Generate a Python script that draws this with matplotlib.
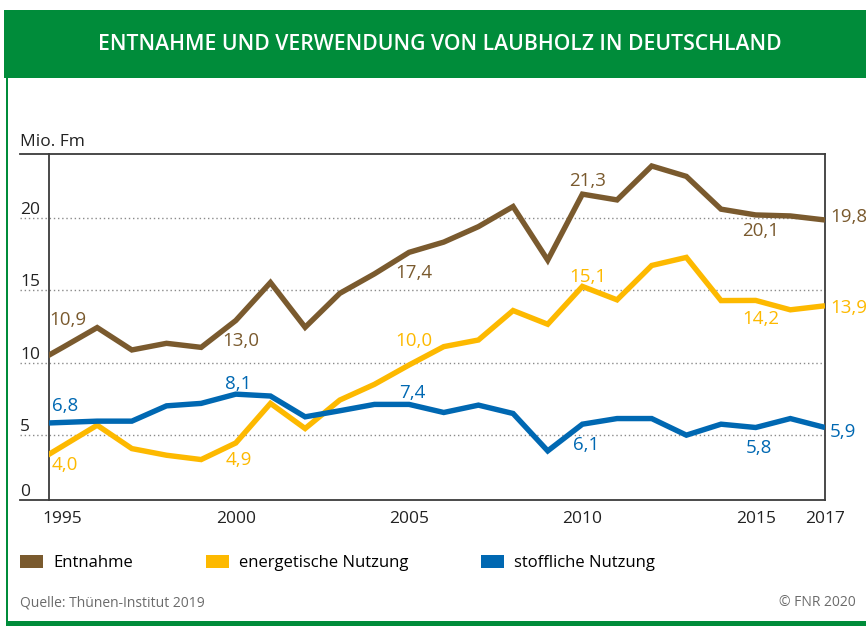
import matplotlib
matplotlib.use("Agg")
import matplotlib.pyplot as plt
from matplotlib.patches import Rectangle, Patch

# ---------------- data ----------------
years = list(range(1994, 2018))
entnahme = [9.7, 11.05, 12.43, 10.88, 11.34, 11.06, 12.92, 15.55, 12.45, 14.8, 16.15, 17.64,
            18.35, 19.42, 20.81, 17.1, 21.67, 21.27, 23.62, 22.9, 20.63, 20.23, 20.16, 19.88]
energetisch = [2.77, 4.22, 5.67, 4.05, 3.59, 3.29, 4.44, 7.18, 5.44, 7.41, 8.5, 9.84,
               11.11, 11.57, 13.61, 12.66, 15.28, 14.35, 16.73, 17.29, 14.3, 14.31, 13.66, 13.94]
stofflich = [5.77, 5.86, 5.95, 5.95, 7.01, 7.18, 7.82, 7.69, 6.25, 6.67, 7.11, 7.11,
             6.55, 7.06, 6.48, 3.89, 5.74, 6.13, 6.13, 4.98, 5.74, 5.51, 6.13, 5.51]

series_names = ["Entnahme", "energetische Nutzung", "stoffliche Nutzung"]
colors = ["#7A5A2E", "#FDB900", "#0068B2"]

x_ticks = [1995, 2000, 2005, 2010, 2015, 2017]
y_ticks = [5, 10, 15, 20]
y_tick_labels = ["5", "10", "15", "20"]

# value labels: (text, year, value, series index, align)
value_labels = [
    ("10,9", 1995.14, 12.96, 0, "center"),
    ("13,0", 2000.14, 11.52, 0, "center"),
    ("17,4", 2005.15, 16.19, 0, "center"),
    ("21,3", 2010.15, 22.60, 0, "center"),
    ("20,1", 2015.15, 19.12, 0, "center"),
    ("19,8", 2017.14, 20.10, 0, "left"),
    ("4,0", 1995.07, 2.92, 1, "center"),
    ("4,9", 2000.09, 3.26, 1, "center"),
    ("10,0", 2005.14, 11.52, 1, "center"),
    ("15,1", 2010.15, 15.96, 1, "center"),
    ("14,2", 2015.16, 13.03, 1, "center"),
    ("13,9", 2017.14, 13.82, 1, "left"),
    ("6,8", 1995.07, 7.00, 2, "center"),
    ("8,1", 2000.06, 8.49, 2, "center"),
    ("7,4", 2005.10, 7.88, 2, "center"),
    ("6,1", 2010.10, 4.30, 2, "center"),
    ("5,8", 2015.10, 4.07, 2, "center"),
    ("5,9", 2017.14, 5.22, 2, "left"),
]

title = "ENTNAHME UND VERWENDUNG VON LAUBHOLZ IN DEUTSCHLAND"
unit_label = "Mio. Fm"
source = "Quelle: Thünen-Institut 2019"
copyright_txt = "© FNR 2020"

# ---------------- layout ----------------
W, H = 866, 626
plt.rcParams["font.family"] = ["Open Sans", "DejaVu Sans"]
fig = plt.figure(figsize=(W / 100, H / 100), dpi=100)

def fx(px):
    return px / W

def fy(py):
    return 1 - py / H

green = "#008C3A"
# header band
fig.patches.append(Rectangle((fx(4), fy(78)), fx(862), 68 / H, transform=fig.transFigure,
                             facecolor=green, edgecolor="none", zorder=0))
# frame lines
fig.patches.append(Rectangle((fx(5.5), fy(626)), 2.2 / W, (626 - 78) / H, transform=fig.transFigure,
                             facecolor=green, edgecolor="none", zorder=0))
fig.patches.append(Rectangle((fx(5.5), fy(626)), fx(866), 5 / H, transform=fig.transFigure,
                             facecolor=green, edgecolor="none", zorder=0))

fig.text(fx(440), fy(44), title, color="white", fontsize=15.2, fontweight="semibold",
         ha="center", va="center")

ax_left, ax_right, ax_top, ax_bottom = 49, 825, 154, 500
ax = fig.add_axes([fx(ax_left), fy(ax_bottom), (ax_right - ax_left) / W, (ax_bottom - ax_top) / H])
ymin, ymax = 0.49, 24.45
ax.set_xlim(1994.61, 2017)
ax.set_ylim(ymin, ymax)

for name, vals, c in zip(series_names, [entnahme, energetisch, stofflich], colors):
    ax.plot(years, vals, color=c, lw=3.9, solid_joinstyle="miter", solid_capstyle="butt",
            zorder=3, label=name)

ext = (20 - ax_left) / (ax_right - ax_left)
axis_col = "#3c3c3c"
for y in y_ticks:
    ax.axhline(y, xmin=ext, xmax=1, clip_on=False, color="#8a8a8a", lw=1.0,
               ls=(0, (1, 2)), zorder=1)
ax.plot([ext, 1], [1, 1], transform=ax.transAxes, clip_on=False, color=axis_col, lw=1.3, zorder=4)
ax.plot([ext, 1], [0, 0], transform=ax.transAxes, clip_on=False, color=axis_col, lw=1.3, zorder=4)

for s in ["top", "bottom"]:
    ax.spines[s].set_visible(False)
for s in ["left", "right"]:
    ax.spines[s].set_color(axis_col)
    ax.spines[s].set_linewidth(1.3)

ax.set_xticks(x_ticks)
ax.set_xticklabels([str(v) for v in x_ticks])
ax.set_yticks([ymin] + y_ticks)
ax.set_yticklabels(["0"] + y_tick_labels)
ax.tick_params(axis="both", length=0, labelsize=12.5, labelcolor="#222222")
ax.tick_params(axis="x", pad=8)
ax.tick_params(axis="y", pad=(ax_left - 20) / 1.389)
for lab in ax.get_yticklabels():
    lab.set_horizontalalignment("left")
    lab.set_verticalalignment("bottom")

fig.text(fx(20), fy(142), unit_label, fontsize=12.5, color="#222222", ha="left", va="center")

for txt, xv, yv, si, al in value_labels:
    ax.text(xv, yv, txt, color=colors[si], fontsize=13.5, ha=al, va="center",
            clip_on=False, zorder=5)

# legend
handles = [Patch(facecolor=c, edgecolor="none") for c in colors]
fs_leg = 12.0
em = fs_leg * 100 / 72
fig.legend(handles, series_names, loc="center left", bbox_to_anchor=(fx(20), fy(563)),
           ncol=3, frameon=False, fontsize=fs_leg, handlelength=23 / em, handleheight=14 / em,
           handletextpad=10 / em, columnspacing=73 / em, borderpad=0, borderaxespad=0)

fig.text(fx(20), fy(603), source, fontsize=10.0, color="#6b6b6b", ha="left", va="center")
fig.text(fx(856), fy(603), copyright_txt, fontsize=10.0, color="#6b6b6b", ha="right", va="center")

fig.savefig("out.png", dpi=100)
